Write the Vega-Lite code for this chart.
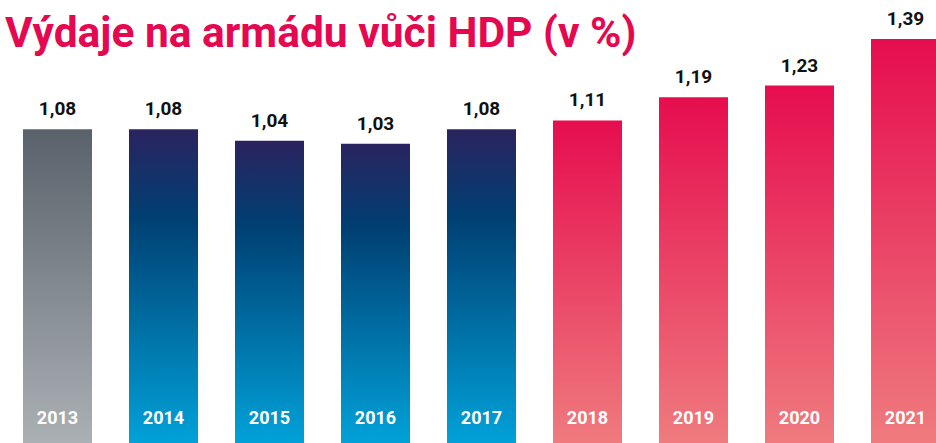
{
  "$schema": "https://vega.github.io/schema/vega-lite/v6.json",
  "width": 936,
  "height": 443,
  "padding": 0,
  "autosize": {"type": "none"},
  "background": "white",
  "config": {
    "view": {"stroke": null},
    "locale": {"number": {"decimal": ",", "thousands": " ", "grouping": [3], "currency": ["", " Kč"]}}
  },
  "title": {
    "text": "Výdaje na armádu vůči HDP (v %)",
    "anchor": "start",
    "frame": "group",
    "orient": "top",
    "baseline": "alphabetic",
    "offset": -45,
    "dx": 5,
    "dy": 44,
    "font": "Roboto",
    "fontSize": 42.5,
    "fontWeight": "bold",
    "color": "#e5074f"
  },
  "data": {
    "values": [
      {"year": "2013", "value": 1.08, "group": "gray"},
      {"year": "2014", "value": 1.08, "group": "blue"},
      {"year": "2015", "value": 1.04, "group": "blue"},
      {"year": "2016", "value": 1.03, "group": "blue"},
      {"year": "2017", "value": 1.08, "group": "blue"},
      {"year": "2018", "value": 1.11, "group": "red"},
      {"year": "2019", "value": 1.19, "group": "red"},
      {"year": "2020", "value": 1.23, "group": "red"},
      {"year": "2021", "value": 1.39, "group": "red"}
    ]
  },
  "encoding": {
    "x": {
      "field": "year",
      "type": "ordinal",
      "axis": null,
      "scale": {"type": "band", "range": [0, 963], "paddingInner": 0.349, "paddingOuter": 0.217}
    },
    "y": {
      "field": "value",
      "type": "quantitative",
      "axis": null,
      "scale": {"domain": [0, 1.5244], "nice": false, "zero": true}
    }
  },
  "layer": [
    {
      "transform": [{"filter": "datum.group === 'gray'"}],
      "mark": {
        "type": "bar",
        "color": {
          "gradient": "linear", "x1": 0, "y1": 0, "x2": 0, "y2": 1,
          "stops": [{"offset": 0, "color": "#59626b"}, {"offset": 1, "color": "#abb0b4"}]
        }
      }
    },
    {
      "transform": [{"filter": "datum.group === 'blue'"}],
      "mark": {
        "type": "bar",
        "color": {
          "gradient": "linear", "x1": 0, "y1": 0, "x2": 0, "y2": 1,
          "stops": [
            {"offset": 0, "color": "#2a235f"},
            {"offset": 0.28, "color": "#003f72"},
            {"offset": 1, "color": "#00a2d9"}
          ]
        }
      }
    },
    {
      "transform": [{"filter": "datum.group === 'red'"}],
      "mark": {
        "type": "bar",
        "color": {
          "gradient": "linear", "x1": 0, "y1": 0, "x2": 0, "y2": 1,
          "stops": [{"offset": 0, "color": "#e60d4f"}, {"offset": 1, "color": "#ef7b7e"}]
        }
      }
    },
    {
      "mark": {
        "type": "text",
        "baseline": "alphabetic",
        "dy": -14,
        "font": "Roboto",
        "fontSize": 19,
        "fontWeight": "bold",
        "color": "#111111"
      },
      "encoding": {
        "text": {"field": "value", "type": "quantitative", "format": ".2f"}
      }
    },
    {
      "mark": {
        "type": "text",
        "baseline": "alphabetic",
        "dy": -19,
        "font": "Roboto",
        "fontSize": 18,
        "fontWeight": "bold",
        "color": "white"
      },
      "encoding": {
        "y": {"datum": 0, "type": "quantitative"},
        "text": {"field": "year", "type": "nominal"}
      }
    }
  ]
}
